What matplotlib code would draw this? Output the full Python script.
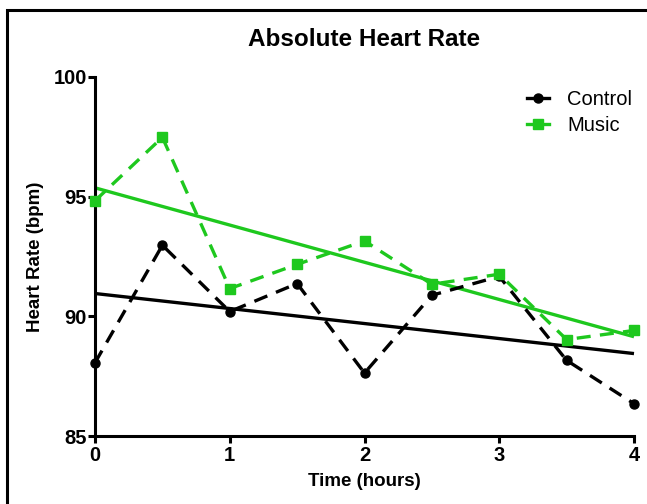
import numpy as np
import matplotlib
matplotlib.use("Agg")
import matplotlib.pyplot as plt
from matplotlib.patches import Rectangle
from matplotlib.legend_handler import HandlerLine2D

plt.rcParams['font.family'] = ['Liberation Sans', 'DejaVu Sans']

# data
hours = [0, 0.5, 1, 1.5, 2, 2.5, 3, 3.5, 4]
control = [88.06, 92.97, 90.2, 91.37, 87.63, 90.88, 91.67, 88.16, 86.35]
music = [94.83, 97.48, 91.16, 92.17, 93.15, 91.34, 91.76, 89.03, 89.41]
series_names = ["Control", "Music"]
x_ticks = [0, 1, 2, 3, 4]
y_ticks = [85, 90, 95, 100]

black = "#000000"
green = "#1ec81e"


class MarkerAtEnd(HandlerLine2D):
    # legend handle: short solid line with the marker sitting at its right end
    def get_xdata(self, legend, xdescent, ydescent, width, height, fontsize):
        xdata = np.array([-xdescent, -xdescent + width])
        return xdata, np.array([-xdescent + width * 0.85])

    def create_artists(self, *args, **kwargs):
        arts = super().create_artists(*args, **kwargs)
        arts[0].set_linestyle("-")
        return arts


fig = plt.figure(figsize=(6.47, 5.04), dpi=100)
ax = fig.add_axes([95 / 647, 68 / 504, 539 / 647, 359 / 504])

x = np.array(hours)
for y, name, col, mk in [(control, series_names[0], black, "o"),
                         (music, series_names[1], green, "s")]:
    ax.plot(x, y, linestyle=(0, (4.2, 2.8)), color=col, lw=2.4, marker=mk,
            markersize=6.5, label=name, clip_on=False, zorder=3)
    # linear regression line
    k, b = np.polyfit(x, y, 1)
    ax.plot([x[0], x[-1]], [b + k * x[0], b + k * x[-1]], color=col, lw=2.4,
            solid_capstyle="butt", clip_on=False, zorder=2)

ax.set_xlim(0, 4)
ax.set_ylim(85, 100)
ax.set_xticks(x_ticks)
ax.set_yticks(y_ticks)
for s in ["top", "right"]:
    ax.spines[s].set_visible(False)
for s in ["left", "bottom"]:
    ax.spines[s].set_linewidth(2.2)
ax.tick_params(width=2.2, length=5, labelsize=14.5)
ax.tick_params(axis="x", pad=2)
ax.tick_params(axis="y", pad=1)
for lab in ax.get_xticklabels() + ax.get_yticklabels():
    lab.set_fontweight("bold")

ax.set_title("Absolute Heart Rate", fontsize=17.5, fontweight="bold", pad=22)
ax.set_xlabel("Time (hours)", fontsize=13.5, fontweight="bold", labelpad=6)
ax.set_ylabel("Heart Rate (bpm)", fontsize=13.5, fontweight="bold", labelpad=7)

ax.legend(loc="upper right", bbox_to_anchor=(1.03, 1.015), frameon=False,
          fontsize=14.5, handlelength=1.1, handletextpad=0.9,
          labelspacing=0.35,
          handler_map={plt.Line2D: MarkerAtEnd()})

# outer frame around the figure (runs off the right and bottom edges)
fig.patches.append(Rectangle((7 / 647, -0.1), 1.0, 1.1 - 10 / 504,
                             transform=fig.transFigure, fill=False,
                             edgecolor="black", lw=2.2))

fig.savefig("out.png", dpi=100)
